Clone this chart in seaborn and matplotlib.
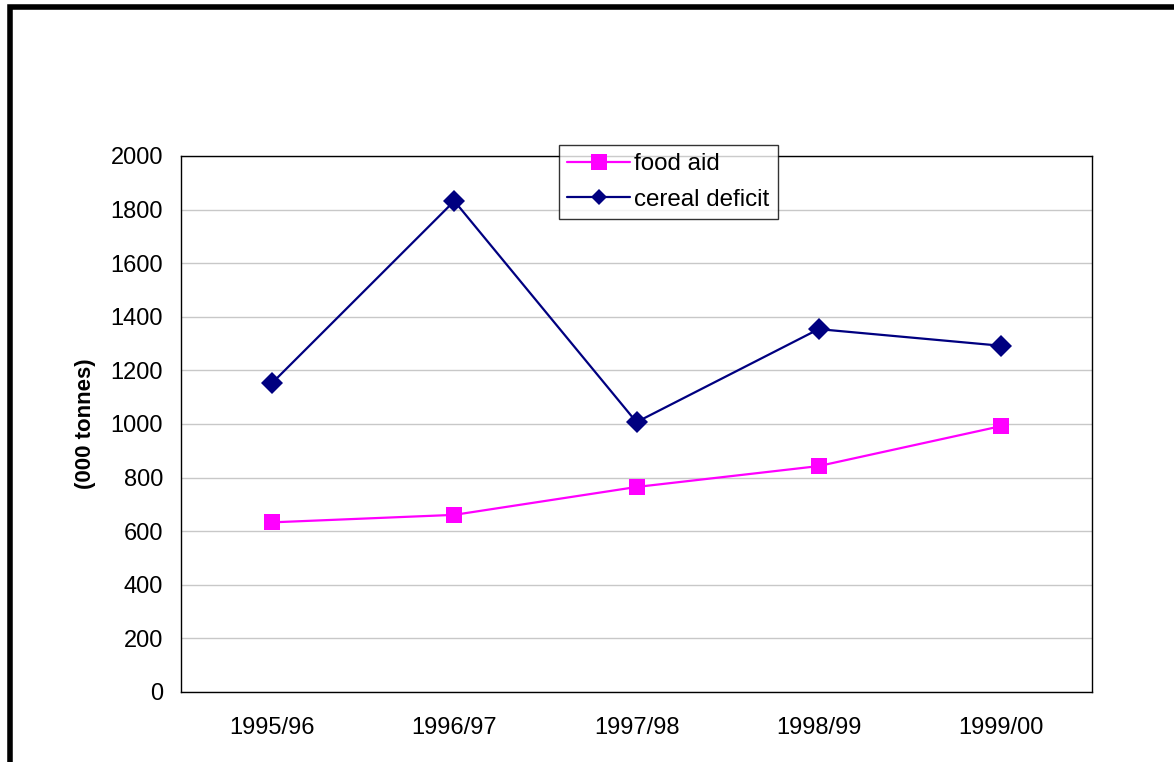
import matplotlib as mpl
mpl.use("Agg")
import matplotlib.pyplot as plt
import seaborn as sns
import pandas as pd
from matplotlib.patches import Rectangle

# data
seasons = ["1995/96", "1996/97", "1997/98", "1998/99", "1999/00"]
food_aid = [633, 661, 765, 843, 992]
cereal_deficit = [1153, 1832, 1007, 1354, 1292]

sns.set_style("white")
plt.rcParams['font.family'] = ['Liberation Sans', 'DejaVu Sans']
plt.rcParams['font.size'] = 17
for k in ['text.color', 'axes.labelcolor', 'xtick.color', 'ytick.color']:
    plt.rcParams[k] = 'black'

data = pd.DataFrame({"season": seasons * 2,
                     "value": food_aid + cereal_deficit,
                     "series": ["food aid"] * 5 + ["cereal deficit"] * 5})
data["x"] = data["season"].map({s: i for i, s in enumerate(seasons)})

fig = plt.figure(figsize=(11.74, 7.62), dpi=100)
ax = fig.add_axes([181 / 1174, 1 - 692 / 762, (1092 - 181) / 1174, (692 - 156) / 762])

sns.lineplot(data=data, x="x", y="value", hue="series", style="series",
             hue_order=["food aid", "cereal deficit"],
             palette={"food aid": "#FF00FF", "cereal deficit": "#000080"},
             markers={"food aid": "s", "cereal deficit": "D"},
             dashes=False, markersize=11, linewidth=1.6,
             markeredgewidth=0, ax=ax, legend=False)

# legend like the old spreadsheet chart
h1, = ax.plot([], [], color="#FF00FF", marker="s", markersize=12, lw=1.6, mew=0)
h2, = ax.plot([], [], color="#000080", marker="D", markersize=8, lw=1.6, mew=0)
leg = fig.legend([h1, h2], ["food aid", "cereal deficit"],
                 loc="upper left", bbox_to_anchor=(559 / 1174, 1 - 145 / 762),
                 frameon=True, fancybox=False, edgecolor="black",
                 fontsize=17.4, handlelength=2.6, handletextpad=0.15,
                 borderpad=0.35, labelspacing=0.55, borderaxespad=0)
leg.get_frame().set_linewidth(1.0)

ax.set_ylim(0, 2000)
ax.set_yticks(range(0, 2001, 200))
ax.set_xlim(-0.5, 4.5)
ax.set_xticks([i - 0.5 for i in range(6)])
ax.set_xticklabels([])
ax.set_xticks(range(5), minor=True)
ax.set_xticklabels(seasons, minor=True)
ax.tick_params(axis="x", which="minor", length=0, pad=18, labelsize=17)
ax.tick_params(axis="x", which="major", length=6, width=1, direction="out", color="black")
ax.tick_params(axis="y", length=6, width=1, direction="out", color="black", pad=7, labelsize=17)
ax.yaxis.grid(True, color="#c8c8c8", linewidth=1)
ax.set_axisbelow(True)
for sp in ax.spines.values():
    sp.set_color("black")
    sp.set_linewidth(1)
ax.set_xlabel("")
ax.set_ylabel("(000 tonnes)", fontweight="bold", fontsize=16, labelpad=10)

# thick outer frame, cut at right and bottom like the original
fig.patches.append(Rectangle((9.5 / 1174, -0.05), 1.2, 1 - 6.5 / 762 + 0.05,
                             transform=fig.transFigure, fill=False,
                             edgecolor="black", linewidth=4, zorder=10))

plt.savefig("out.png", dpi=100)
